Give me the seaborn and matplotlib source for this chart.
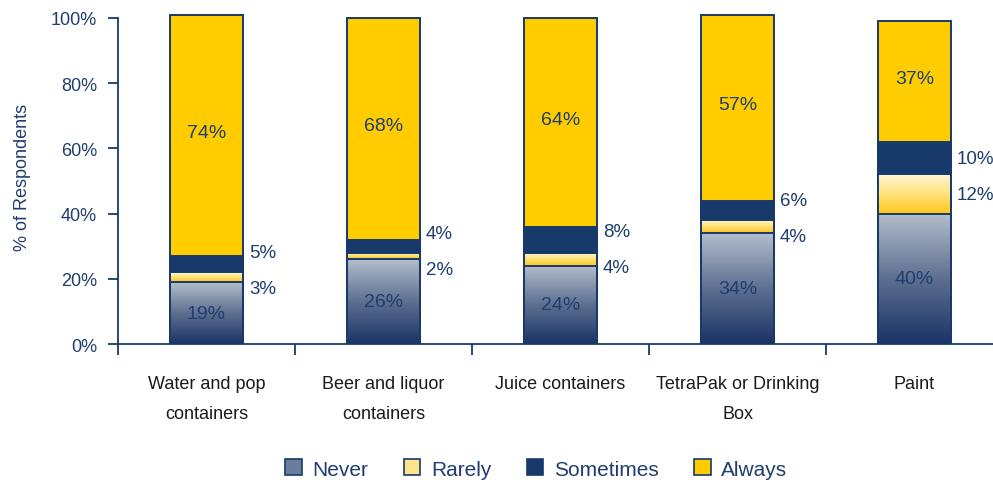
import numpy as np
import pandas as pd
import matplotlib.pyplot as plt
import seaborn as sns
from matplotlib.patches import Patch
from matplotlib.colors import LinearSegmentedColormap
from matplotlib import font_manager

categories = ["Water and pop\ncontainers", "Beer and liquor\ncontainers", "Juice containers",
              "TetraPak or Drinking\nBox", "Paint"]
never = [19, 26, 24, 34, 40]
rarely = [3, 2, 4, 4, 12]
sometimes = [5, 4, 8, 6, 10]
always = [74, 68, 64, 57, 37]
series_names = ["Never", "Rarely", "Sometimes", "Always"]

sns.set_style("white")
names = {f.name for f in font_manager.fontManager.ttflist}
fam = "Liberation Sans Narrow" if "Liberation Sans Narrow" in names else "Liberation Sans"
plt.rcParams["font.family"] = [fam, "DejaVu Sans"]

navy = "#173A6B"
text_c = "#1F3D6E"
gold = "#FFCC00"

df = pd.DataFrame({"cat": categories, "Never": never, "Rarely": rarely,
                   "Sometimes": sometimes, "Always": always})
cum = df[series_names].cumsum(axis=1)

fig = plt.figure(figsize=(9.93, 4.85), dpi=100)
ax = fig.add_axes([118 / 993, 140 / 485, 885 / 993, 335.8 / 485])

# stacked bars drawn back to front
fills = {"Never": "#6B7D9C", "Rarely": "#FFE38A", "Sometimes": navy, "Always": gold}
containers = {}
for name in series_names[::-1]:
    sns.barplot(x=df["cat"], y=cum[name], color=fills[name], edgecolor=navy,
                linewidth=1.4, width=0.41, saturation=1, ax=ax)
    containers[name] = ax.containers[-1]

# vertical gradients for Never and Rarely segments
grads = {"Never": LinearSegmentedColormap.from_list("nv", ["#1A3366", "#5E6F90", "#B3BDCC"]),
         "Rarely": LinearSegmentedColormap.from_list("rr", ["#FFC61A", "#FFE27A", "#FFF6D8"])}
g = np.linspace(0, 1, 256).reshape(-1, 1)
for name, cmap in grads.items():
    bottoms = cum[name] - df[name]
    for bar, b0 in zip(containers[name], bottoms):
        x0 = bar.get_x()
        x1 = x0 + bar.get_width()
        top = bar.get_height()
        im = ax.imshow(g, cmap=cmap, origin="lower", aspect="auto",
                       extent=[x0, x1, b0, top], zorder=2.5)
        im.set_clip_path(bar)
        bar.set_facecolor("none")
        bar.set_zorder(3)

# value labels
lbl = dict(fontsize=14, color=text_c, zorder=4)
side = dict(fontsize=13.5, color=text_c, ha="left", va="center")
for i in range(len(categories)):
    ax.text(i, never[i] / 2, f"{never[i]}%", ha="center", va="center", **lbl)
    ax.text(i, cum["Sometimes"][i] + always[i] / 2 + 1, f"{always[i]}%", ha="center",
            va="center", **lbl)
    rc = never[i] + rarely[i] / 2
    sc = cum["Rarely"][i] + sometimes[i] / 2
    mid = (rc + sc) / 2
    if sc - rc < 11:
        rc, sc = mid - 5.5, mid + 5.5
    ax.text(i + 0.24, rc, f"{rarely[i]}%", **side)
    ax.text(i + 0.24, sc, f"{sometimes[i]}%", **side)

ax.set_xlim(-0.5, 4.5)
ax.set_ylim(0, 103)
ax.set_yticks(range(0, 101, 20))
ax.set_yticklabels([f"{v}%" for v in range(0, 101, 20)], fontsize=13, color=text_c)
ax.set_xticks(np.arange(-0.5, 4.6, 1))
ax.set_xticklabels([])
ax.set_xticks(range(len(categories)), minor=True)
ax.set_xticklabels(categories, minor=True, fontsize=13, color="#1A1A1A", linespacing=2.0)
ax.tick_params(axis="x", which="major", direction="out", bottom=True, length=8,
               width=1.3, color=navy)
ax.tick_params(axis="x", which="minor", bottom=True, length=0, pad=22)
ax.tick_params(axis="y", direction="out", left=True, length=7, width=1.3, color=navy, pad=8)
ax.set_xlabel("")
ax.set_ylabel("% of Respondents", fontsize=13, color=text_c, labelpad=14)
sns.despine(ax=ax)
for s in ["left", "bottom"]:
    ax.spines[s].set_color(navy)
    ax.spines[s].set_linewidth(1.3)
ax.spines["left"].set_bounds(0, 100)

handles = [Patch(facecolor=fills[n], edgecolor=navy, linewidth=1.2) for n in series_names]
fig.legend(handles, series_names, loc="center", bbox_to_anchor=(0.54, 0.031), ncol=4,
           frameon=False, fontsize=15, handlelength=0.8, handleheight=0.8,
           columnspacing=1.7, handletextpad=0.5, labelcolor=text_c)

fig.savefig("out.png", dpi=100)
